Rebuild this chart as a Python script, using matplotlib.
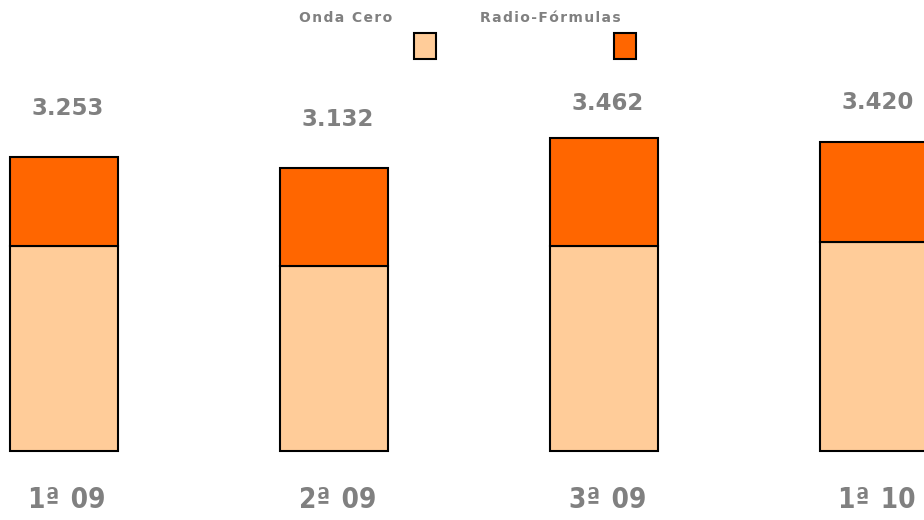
import numpy as np
import matplotlib.pyplot as plt
from matplotlib.patches import Rectangle

# data
periodos = ["1ª 09", "2ª 09", "3ª 09", "1ª 10"]
totales = [3253, 3132, 3462, 3420]
onda_cero = [2268, 2046, 2268, 2312]
radio_formulas = [t - o for t, o in zip(totales, onda_cero)]
etiquetas = ["3.253", "3.132", "3.462", "3.420"]
# how far above the bar top each total sits (px), as in the original
desfase = [48, 48, 35, 39]

col_onda = "#FFCC99"
col_radio = "#FF6600"
gris = "#808080"
escala = 0.0904   # px per unit

fig = plt.figure(figsize=(9.24, 5.2), dpi=100)
ax = fig.add_axes([0, 0, 1, 1])

x = np.arange(len(periodos))
ancho = 0.4
ax.bar(x, onda_cero, ancho, color=col_onda, edgecolor="black", linewidth=1.5)
ax.bar(x, radio_formulas, ancho, bottom=onda_cero, color=col_radio,
       edgecolor="black", linewidth=1.5)

# totals above the bars
for i, t in enumerate(totales):
	ax.text(x[i] + 0.012, t + desfase[i] / escala, etiquetas[i], ha="center",
	        va="center", fontsize=16.5, fontweight="bold", color=gris)

# category labels under the bars
for i, p in enumerate(periodos):
	ax.text(x[i] + 0.012, -540, p.replace(" ", " \u200a"), ha="center",
	        va="center", fontsize=20, fontweight="bold", color=gris,
	        fontstretch="condensed", family=["DejaVu Sans"])

ax.set_xlim(-64 / 270, -64 / 270 + 924 / 270)
ax.set_ylim(-(520 - 451) / escala, 451 / escala)
ax.axis("off")

# legend made by hand
fig.text(346 / 924, 1 - 18 / 520, "\u200a".join("Onda Cero"), ha="center",
         va="center", fontsize=10, fontweight="bold", color=gris)
fig.text(550 / 924, 1 - 18 / 520, "\u200a".join("Radio-Fórmulas"), ha="center",
         va="center", fontsize=10, fontweight="bold", color=gris)
for x0, c in [(414, col_onda), (614, col_radio)]:
	fig.patches.append(Rectangle((x0 / 924, 1 - 59 / 520), 22 / 924, 26 / 520,
	                             transform=fig.transFigure, facecolor=c,
	                             edgecolor="black", linewidth=1.5))

plt.savefig("out.png", dpi=100)
